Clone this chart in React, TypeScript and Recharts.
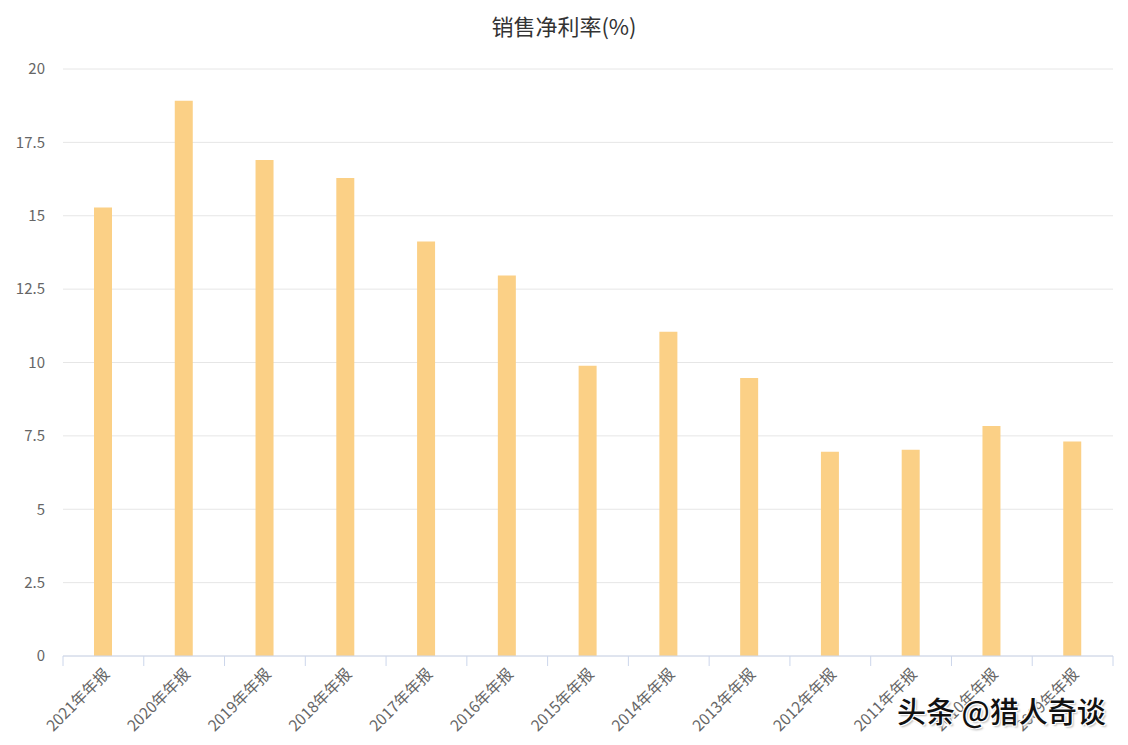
import React from 'react';
import { BarChart, Bar, XAxis, YAxis, CartesianGrid } from 'recharts';

const categories = [
  '2021年年报', '2020年年报', '2019年年报', '2018年年报', '2017年年报',
  '2016年年报', '2015年年报', '2014年年报', '2013年年报', '2012年年报',
  '2011年年报', '2010年年报', '2009年年报',
];
const netMargin = [15.28, 18.92, 16.9, 16.29, 14.12, 12.96, 9.89, 11.05, 9.47, 6.96, 7.03, 7.84, 7.31];
const yTicks = [0, 2.5, 5, 7.5, 10, 12.5, 15, 17.5, 20];

const data = categories.map((name, i) => ({ name, value: netMargin[i] }));

const FONT = '"Noto Sans CJK SC", "Open Sans", sans-serif';

function XTick(props: any) {
  const { x, y, payload, index, visibleTicksCount } = props;
  const off = payload && payload.offset != null ? payload.offset : 0;
  const isLast = index === visibleTicksCount - 1;
  return (
    <g>
      <line x1={x - off} x2={x - off} y1={y} y2={y + 10} stroke="#ccd6eb" strokeWidth={1} />
      {isLast && (
        <line x1={x + off} x2={x + off} y1={y} y2={y + 10} stroke="#ccd6eb" strokeWidth={1} />
      )}
      <text
        x={x + 7}
        y={y + 19}
        transform={`rotate(-45 ${x + 7} ${y + 19})`}
        textAnchor="end"
        fill="#666666"
        fontSize={15.5}
        fontFamily={FONT}
      >
        {payload.value}
      </text>
    </g>
  );
}

export default function App() {
  return (
    <div
      style={{
        position: 'absolute',
        left: 0,
        top: 0,
        width: 1128,
        height: 745,
        background: '#ffffff',
        overflow: 'hidden',
      }}
    >
      <div
        style={{
          position: 'absolute',
          left: 0,
          top: 9,
          width: 1128,
          textAlign: 'center',
          fontFamily: FONT,
          fontSize: 22,
          color: '#333333',
          lineHeight: '32px',
        }}
      >
        销售净利率(%)
      </div>
      <BarChart
        width={1128}
        height={745}
        data={data}
        margin={{ top: 69, right: 15, bottom: 0, left: 0 }}
        barCategoryGap={0}
      >
        <CartesianGrid vertical={false} stroke="#e6e6e6" />
        <XAxis
          dataKey="name"
          interval={0}
          height={89}
          tickSize={0}
          tickMargin={0}
          tickLine={false}
          axisLine={{ stroke: '#ccd6eb' }}
          tick={<XTick />}
        />
        <YAxis
          domain={[0, 20]}
          ticks={yTicks}
          width={63}
          axisLine={false}
          tickLine={false}
          tickSize={0}
          tickMargin={18}
          tick={{ fill: '#666666', fontSize: 15, fontFamily: FONT }}
        />
        <Bar dataKey="value" fill="#fbd086" barSize={18} isAnimationActive={false} />
      </BarChart>
      <div
        style={{
          position: 'absolute',
          left: 897,
          top: 691,
          fontFamily: FONT,
          fontSize: 29,
          fontWeight: 500,
          color: '#111111',
          whiteSpace: 'nowrap',
          lineHeight: '38px',
          textShadow: '1px 1px 0 #fff, -1px -1px 0 #fff, 1px -1px 0 #fff, -1px 1px 0 #fff, 2px 2px 2px #bbb',
        }}
      >
        头条 @猎人奇谈
      </div>
    </div>
  );
}
